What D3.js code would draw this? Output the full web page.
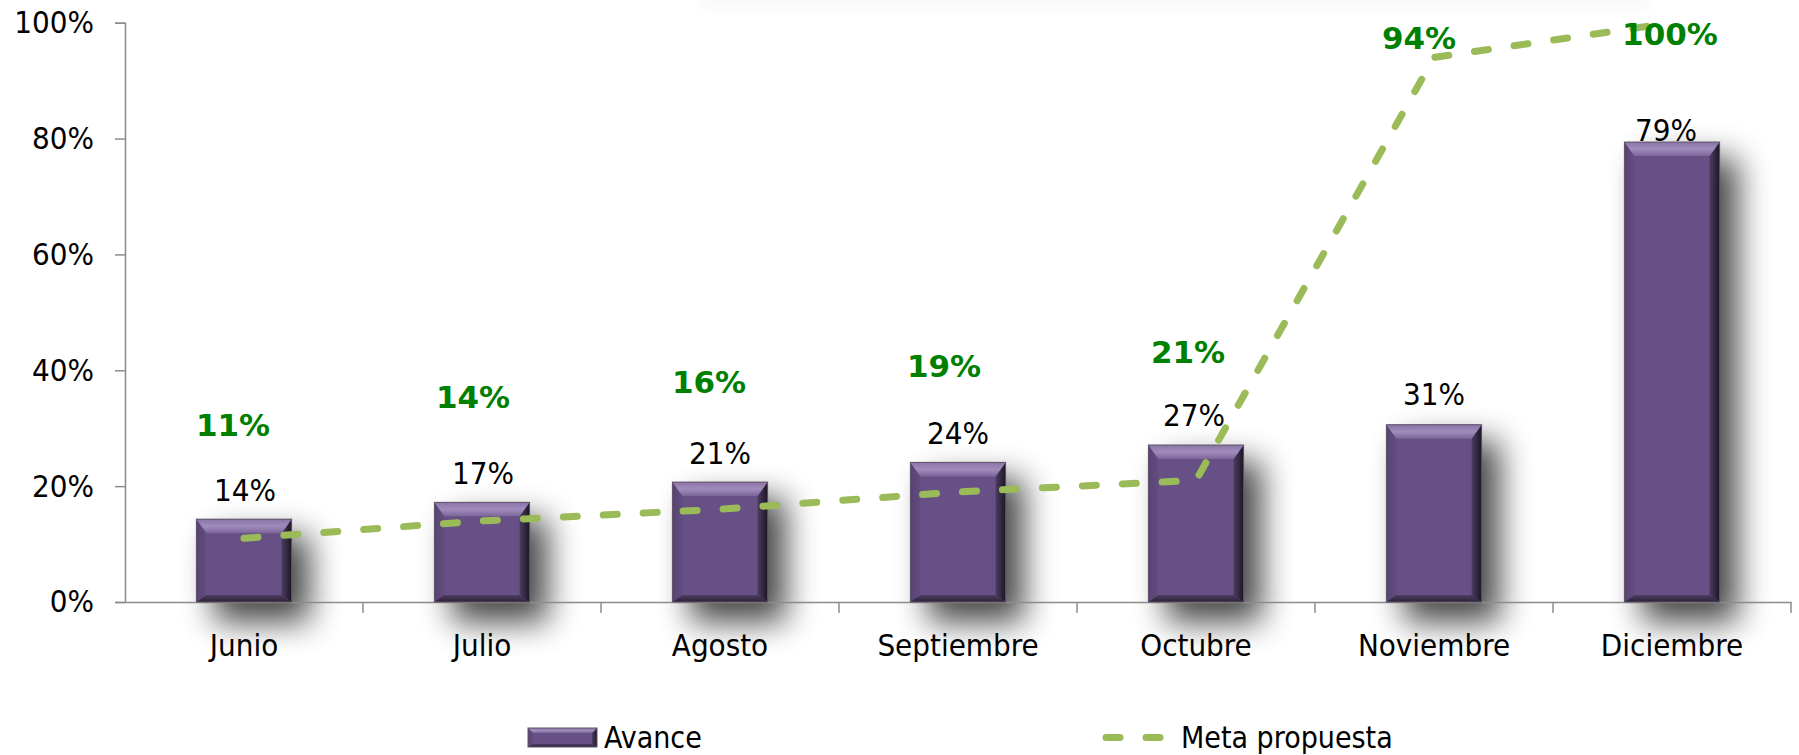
<!DOCTYPE html>
<html>
<head>
<meta charset="utf-8">
<script src="https://cdn.jsdelivr.net/npm/d3@7/dist/d3.min.js"></script>
<style>
  body { margin: 0; background: #fff; }
  text { font-family: "DejaVu Sans Condensed", "DejaVu Sans", sans-serif; font-stretch: condensed; }
</style>
</head>
<body>
<div id="chart"></div>
<script>
var months = ["Junio", "Julio", "Agosto", "Septiembre", "Octubre", "Noviembre", "Diciembre"];
var avance = [0.143, 0.172, 0.207, 0.241, 0.271, 0.306, 0.794];
var meta = [0.11, 0.14, 0.16, 0.19, 0.21, 0.94, 1.0];
var yTicks = [0, 0.2, 0.4, 0.6, 0.8, 1];
var seriesNames = ["Avance", "Meta propuesta"];

var width = 1799;
var height = 755;
var plotLeft = 125, plotRight = 1791, plotTop = 22.7, plotBottom = 602;
var barColor = "#675085";
var lineColor = "#9bbb59";
var labelGreen = "#008000";
var pct = d3.format(".0%");

/* label nudges (Excel labels were placed by hand) */
var barLabelGap = [18, 18, 18, 18, 19, 20, 1];
var barLabelDx = [1, 1, 0, 0, -2, 0, -6];
var metaLabelDx = [-11, -9, -11, -14, -8, -15, -2];
var metaLabelDy = [-102, -113, -116, -115, -117, -8, 22];

var x = d3.scaleBand().domain(months).range([plotLeft, plotRight]).padding(0);
var y = d3.scaleLinear().domain([0, 1]).range([plotBottom, plotTop]);
var barW = x.step() * 0.4;
var cx = d => x(d) + x.step() / 2;

var svg = d3.select("#chart").append("svg")
  .attr("width", width)
  .attr("height", height);

var defs = svg.append("defs");
defs.append("filter").attr("id", "blur").attr("x", "-80%").attr("y", "-50%").attr("width", "260%").attr("height", "200%")
  .append("feGaussianBlur").attr("stdDeviation", 16);
defs.append("filter").attr("id", "blurTop").attr("x", "-10%").attr("y", "-100%").attr("width", "120%").attr("height", "300%")
  .append("feGaussianBlur").attr("stdDeviation", 6);

function grad(id, dir, stops) {
  var g = defs.append("linearGradient").attr("id", id)
    .attr("x1", 0).attr("y1", 0)
    .attr("x2", dir == "h" ? 1 : 0).attr("y2", dir == "h" ? 0 : 1);
  stops.forEach((c, i) => g.append("stop").attr("offset", i / (stops.length - 1)).attr("stop-color", c));
}
grad("topBevel", "v", ["#8a74a5", "#a18cbe", "#7c6698"]);
grad("rightBevel", "h", ["#4c3c60", "#1d1625"]);
grad("bottomBevel", "v", ["#4d3d62", "#2c2236"]);
grad("leftBevel", "h", ["#574372", "#634d80"]);

/* faint shadow along the top edge */
svg.append("rect")
  .attr("x", 700).attr("y", -20).attr("width", 950).attr("height", 30)
  .attr("fill", "#000").attr("opacity", 0.025)
  .attr("filter", "url(#blurTop)");

/* bar shadows */
svg.append("g").selectAll("rect")
  .data(months).enter()
  .append("rect")
  .attr("x", (d) => cx(d) - barW / 2 + 18)
  .attr("y", (d, i) => y(avance[i]) + 16)
  .attr("width", barW)
  .attr("height", (d, i) => plotBottom - y(avance[i]) + 4)
  .attr("fill", "#000")
  .attr("opacity", 0.72)
  .attr("filter", "url(#blur)");

/* Axes */
var yAxis = d3.axisLeft(y).tickValues(yTicks).tickFormat(pct).tickSize(10).tickPadding(21);
var gy = svg.append("g")
  .attr("transform", `translate(${plotLeft},0)`)
  .call(yAxis);
gy.select(".domain").attr("stroke", "#8c8c8c").attr("stroke-width", 1.5);
gy.selectAll(".tick line").attr("stroke", "#8c8c8c").attr("stroke-width", 1.5);
gy.selectAll(".tick text").attr("font-size", 31).attr("fill", "#000")
  .style("font-family", '"DejaVu Sans Condensed", "DejaVu Sans", sans-serif');

var xAxis = d3.axisBottom(x).tickSize(0).tickPadding(32);
var gx = svg.append("g")
  .attr("transform", `translate(0,${plotBottom})`)
  .call(xAxis);
gx.select(".domain").attr("stroke", "#8c8c8c").attr("stroke-width", 1.5);
gx.selectAll(".tick text").attr("font-size", 31).attr("fill", "#000")
  .style("font-family", '"DejaVu Sans Condensed", "DejaVu Sans", sans-serif');

gx.selectAll(".bound")
  .data(d3.range(1, months.length + 1)).enter()
  .append("line")
  .attr("class", "bound")
  .attr("x1", i => plotLeft + i * x.step())
  .attr("x2", i => plotLeft + i * x.step())
  .attr("y1", 0).attr("y2", 11)
  .attr("stroke", "#8c8c8c").attr("stroke-width", 1.5);

/* beveled bar */
function bevelBar(g, bx, by, w, h, t, s, b) {
  g.append("rect").attr("x", bx).attr("y", by).attr("width", w).attr("height", h).attr("fill", barColor);
  g.append("polygon").attr("fill", "url(#leftBevel)")
    .attr("points", [[bx, by], [bx + s, by + t], [bx + s, by + h - b], [bx, by + h]].join(" "));
  g.append("polygon").attr("fill", "url(#rightBevel)")
    .attr("points", [[bx + w, by], [bx + w, by + h], [bx + w - s, by + h - b], [bx + w - s, by + t]].join(" "));
  g.append("polygon").attr("fill", "url(#bottomBevel)")
    .attr("points", [[bx, by + h], [bx + w, by + h], [bx + w - s, by + h - b], [bx + s, by + h - b]].join(" "));
  g.append("polygon").attr("fill", "url(#topBevel)")
    .attr("points", [[bx, by], [bx + w, by], [bx + w - s, by + t], [bx + s, by + t]].join(" "));
  g.append("rect").attr("x", bx).attr("y", by).attr("width", w).attr("height", h)
    .attr("fill", "none").attr("stroke", "#5e5468").attr("stroke-width", 1);
}

var bars = svg.append("g").attr("class", "bars");
months.forEach(function(m, i) {
  var top = y(avance[i]);
  bevelBar(bars.append("g"), cx(m) - barW / 2, top, barW, plotBottom - top, 14, 10, 7);
});

/* bar labels */
svg.append("g").selectAll("text")
  .data(months).enter()
  .append("text")
  .attr("x", (d, i) => cx(d) + barLabelDx[i])
  .attr("y", (d, i) => y(avance[i]) - barLabelGap[i])
  .attr("text-anchor", "middle")
  .attr("font-size", 31)
  .attr("fill", "#000")
  .text((d, i) => pct(avance[i]));

/* meta line */
var line = d3.line()
  .x(d => cx(d.m))
  .y(d => y(d.v));

svg.append("path")
  .datum(months.map((m, i) => ({m: m, v: meta[i]})))
  .attr("d", line)
  .attr("fill", "none")
  .attr("stroke", lineColor)
  .attr("stroke-width", 7)
  .attr("stroke-linecap", "round")
  .attr("stroke-dasharray", "14 26");

/* meta labels */
svg.append("g").selectAll("text")
  .data(months).enter()
  .append("text")
  .attr("x", (d, i) => cx(d) + metaLabelDx[i])
  .attr("y", (d, i) => y(meta[i]) + metaLabelDy[i])
  .attr("text-anchor", "middle")
  .attr("font-size", 31)
  .attr("font-weight", "bold")
  .style("font-family", '"DejaVu Sans", sans-serif')
  .style("font-stretch", "normal")
  .attr("fill", labelGreen)
  .text((d, i) => pct(meta[i]));

/* legend */
var legend = svg.append("g").attr("class", "legend");
bevelBar(legend.append("g"), 528, 728, 69, 19, 5, 5, 3);
legend.append("text")
  .attr("x", 604).attr("y", 748)
  .attr("font-size", 30)
  .text(seriesNames[0]);

legend.append("line")
  .attr("x1", 1106).attr("x2", 1166)
  .attr("y1", 737.5).attr("y2", 737.5)
  .attr("stroke", lineColor)
  .attr("stroke-width", 7)
  .attr("stroke-linecap", "round")
  .attr("stroke-dasharray", "14 26");
legend.append("text")
  .attr("x", 1181).attr("y", 748)
  .attr("font-size", 30)
  .text(seriesNames[1]);
</script>
</body>
</html>
